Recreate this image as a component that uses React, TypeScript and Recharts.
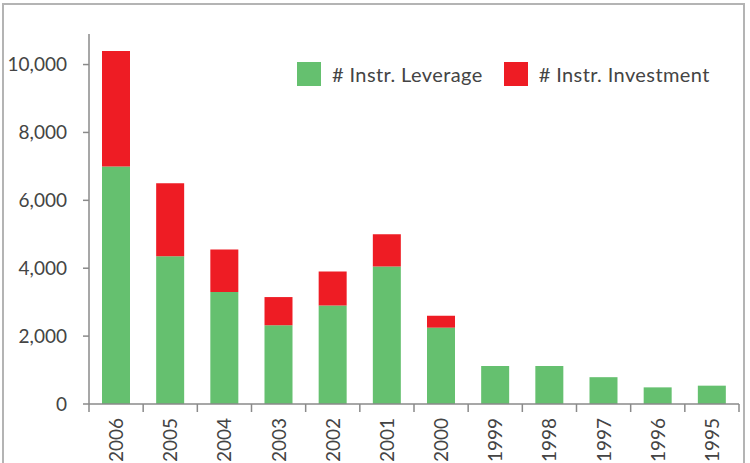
import React from 'react';
import { BarChart, Bar, XAxis, YAxis } from 'recharts';

const years = ['2006', '2005', '2004', '2003', '2002', '2001', '2000', '1999', '1998', '1997', '1996', '1995'];
const leverage = [7000, 4350, 3300, 2320, 2900, 4050, 2250, 1120, 1120, 790, 490, 540];
const investment = [3400, 2150, 1250, 830, 1000, 950, 350, 0, 0, 0, 0, 0];
const yTicks = [0, 2000, 4000, 6000, 8000, 10000];

const data = years.map((year, i) => ({ year, leverage: leverage[i], investment: investment[i] }));

const W = 750;
const H = 463;
const margin = { top: 34, right: 11, bottom: 0, left: 0 };
const yAxisWidth = 89;
const band = (W - margin.left - margin.right - yAxisWidth) / years.length;

const GREEN = '#65c06f';
const RED = '#ee1c24';
const AXIS = '#8a8a8a';
const FONT = 'Lato, "DejaVu Sans", sans-serif';

function XTick(props: any) {
  const { x, y, payload, index } = props;
  const tx = x + 7;
  const ty = y + 14;
  return (
    <g>
      <line x1={x - band / 2} x2={x - band / 2} y1={y} y2={y + 8} stroke={AXIS} strokeWidth={1.5} />
      {index === years.length - 1 && (
        <line x1={x + band / 2} x2={x + band / 2} y1={y} y2={y + 8} stroke={AXIS} strokeWidth={1.5} />
      )}
      <text
        x={tx}
        y={ty}
        transform={`rotate(-90, ${tx}, ${ty})`}
        textAnchor="end"
        fill="#444"
        fontSize={19}
        fontFamily={FONT}
      >
        {payload.value}
      </text>
    </g>
  );
}

function LegendBox() {
  const items = [
    { label: '# Instr. Leverage', color: GREEN },
    { label: '# Instr. Investment', color: RED },
  ];
  return (
    <div style={{ position: 'absolute', left: 297, top: 62, display: 'flex', alignItems: 'center', fontFamily: FONT, fontSize: 20, letterSpacing: 0.4, color: '#444' }}>
      {items.map((it) => (
        <div key={it.label} style={{ display: 'flex', alignItems: 'center', marginRight: 21 }}>
          <div style={{ width: 24, height: 24, background: it.color, marginRight: 11 }} />
          <span>{it.label}</span>
        </div>
      ))}
    </div>
  );
}

export default function App() {
  return (
    <div style={{ position: 'absolute', left: 0, top: 0, width: W, height: H, overflow: 'hidden', background: '#fff' }}>
      <div style={{ position: 'absolute', left: 2, top: 3, width: 739, height: 500, border: '2px solid #b4b4b4' }} />
      <BarChart width={W} height={H} data={data} margin={margin} barSize={28}>
        <YAxis
          width={yAxisWidth}
          domain={[0, 10900]}
          ticks={yTicks}
          allowDataOverflow
          tickFormatter={(v: number) => v.toLocaleString('en-US')}
          stroke={AXIS}
          strokeWidth={1.5}
          tickSize={6}
          tickMargin={16}
          tick={{ fill: '#444', fontSize: 19, fontFamily: FONT }}
        />
        <XAxis
          dataKey="year"
          height={59}
          stroke={AXIS}
          strokeWidth={1.5}
          tickLine={false}
          tickSize={0}
          tickMargin={0}
          interval={0}
          tick={<XTick />}
        />
        <Bar dataKey="leverage" stackId="a" fill={GREEN} isAnimationActive={false} />
        <Bar dataKey="investment" stackId="a" fill={RED} isAnimationActive={false} />
      </BarChart>
      <LegendBox />
    </div>
  );
}
